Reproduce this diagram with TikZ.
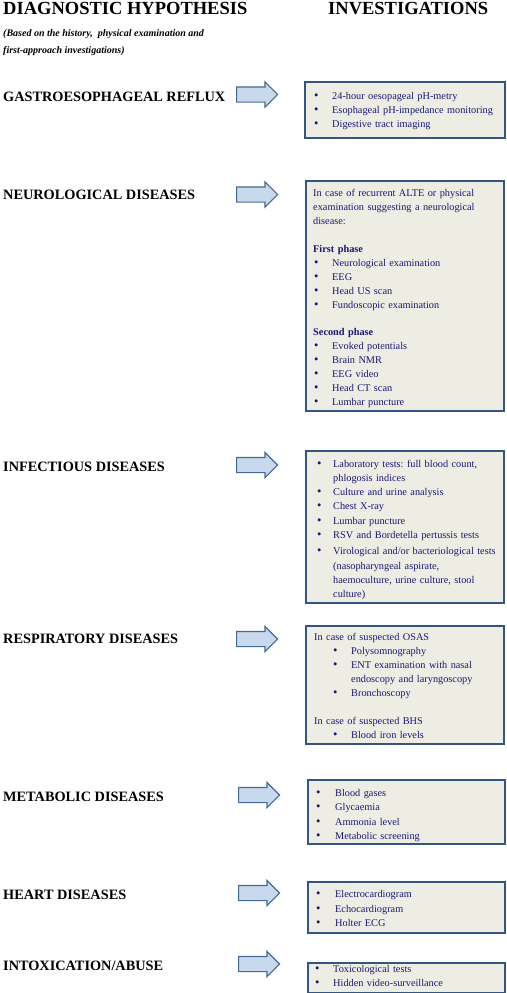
\documentclass[tikz,border=0pt]{standalone}
\usepackage{fontspec}
\setmainfont{Liberation Serif}
\usetikzlibrary{shapes.arrows}
\definecolor{navy}{RGB}{24,24,118}
\definecolor{boxfill}{RGB}{238,237,228}
\definecolor{boxline}{RGB}{50,85,130}
\definecolor{arrfill}{RGB}{200,217,238}
\definecolor{arrline}{RGB}{70,105,150}
\setlength\parskip{0pt}
\setlength\parindent{0pt}
\frenchspacing
\newlength\bulpos
\newlength\txtpos
\newcommand\bul{{\fontsize{12.5}{12}\selectfont\textbullet}}
\newcommand\li[1]{\par\strut\makebox[\txtpos][l]{\hspace*{\bulpos}\makebox[0pt]{\bul}}#1}
\newcommand\lc[1]{\par\strut\hspace*{\txtpos}#1}
\newcommand\lp[1]{\par\strut#1}
\newcommand\lblank{\par\strut}
\tikzset{
  ibox/.style={draw=boxline, line width=1.8pt, fill=boxfill, inner sep=0pt, anchor=north west},
  btext/.style={font=\fontsize{10.3}{#1}\selectfont\frenchspacing, text=navy, anchor=north west, inner sep=0pt, text width=196pt, align=left},
  disease/.style={font=\fontsize{14.3}{16}\selectfont\bfseries, anchor=base west, inner sep=0pt},
  header/.style={font=\fontsize{18.5}{20}\selectfont\bfseries, anchor=base west, inner sep=0pt},
  subhead/.style={font=\fontsize{10}{12}\selectfont\bfseries\itshape, anchor=base west, inner sep=0pt},
  blockarrow/.style={single arrow, draw=arrline, fill=arrfill, line width=1.2pt, minimum height=41pt, minimum width=24pt, single arrow head extend=5pt, inner xsep=0pt, inner ysep=7pt, anchor=tail}
}
\begin{document}
\begin{tikzpicture}[x=1pt,y=-1pt]
\useasboundingbox (0,0) rectangle (506,993);
\fill[white] (0,0) rectangle (506,993);
% headers
\node[header] (h1) at (3,14) {DIAGNOSTIC HYPOTHESIS};
\node[header] (h2) at (328,14) {INVESTIGATIONS};
\node[subhead] (s1) at (3,36.5) {(Based on the history,\ \ physical examination and};
\node[subhead] (s2) at (3,53.5) {first-approach investigations)};
% disease labels
\node[disease] (l1) at (3,101.7) {GASTROESOPHAGEAL REFLUX};
\node[disease] (l2) at (3,199.5) {NEUROLOGICAL DISEASES};
\node[disease] (l3) at (3,471) {INFECTIOUS DISEASES};
\node[disease] (l4) at (3,643) {RESPIRATORY DISEASES};
\node[disease] (l5) at (3,801) {METABOLIC DISEASES};
\node[disease] (l6) at (3,899) {HEART DISEASES};
\node[disease] (l7) at (3,970) {INTOXICATION/ABUSE};
% arrows
\node[blockarrow] (a1) at (236,94.5) {};
\node[blockarrow] (a2) at (236,194.5) {};
\node[blockarrow] (a3) at (236,465) {};
\node[blockarrow] (a4) at (236,639) {};
\node[blockarrow] (a5) at (238,795) {};
\node[blockarrow] (a6) at (238,893) {};
\node[blockarrow] (a7) at (238,964) {};
% boxes
\node[ibox, minimum width=200pt, minimum height=56pt] (b1) at (304,81) {};
\node[ibox, minimum width=198pt, minimum height=230pt] (b2) at (305,180) {};
\node[ibox, minimum width=198pt, minimum height=152pt] (b3) at (305,450) {};
\node[ibox, minimum width=198pt, minimum height=118pt] (b4) at (305,625) {};
\node[ibox, minimum width=197pt, minimum height=64pt] (b5) at (307,779) {};
\node[ibox, minimum width=197pt, minimum height=51pt] (b6) at (307,881) {};
\node[ibox, minimum width=197pt, minimum height=30pt] (b7) at (307,962) {};
% box texts
\node[btext=14] (t1) at (310,85.7) {\setlength\bulpos{6pt}\setlength\txtpos{22pt}%
\li{24-hour oesopageal pH-metry}
\li{Esophageal pH-impedance monitoring}
\li{Digestive tract imaging}};
\node[btext=13.9] (t2) at (313,182.8) {\setlength\bulpos{3pt}\setlength\txtpos{19pt}%
\lp{\makebox[182pt][s]{In case of recurrent ALTE or physical}}
\lp{\makebox[182pt][s]{examination suggesting a neurological}}
\lp{disease:}
\lblank
\lp{\textbf{First phase}}
\li{Neurological examination}
\li{EEG}
\li{Head US scan}
\li{Fundoscopic examination}
\lblank
\lp{\textbf{Second phase}}
\li{Evoked potentials}
\li{Brain NMR}
\li{EEG video}
\li{Head CT scan}
\li{Lumbar puncture}};
\node[btext=14.3] (t3) at (313,452.5) {\setlength\bulpos{6pt}\setlength\txtpos{20pt}%
\li{Laboratory tests: full blood count,}
\lc{phlogosis indices}
\li{Culture and urine analysis}
\li{Chest X-ray}
\li{Lumbar puncture}
\li{RSV and Bordetella pertussis tests}
\par\vspace{2pt}
\li{Virological and/or bacteriological tests}
\lc{(nasopharyngeal aspirate,}
\lc{haemoculture, urine culture, stool}
\lc{culture)}};
\node[btext=14] (t4) at (314,626.2) {\setlength\bulpos{21pt}\setlength\txtpos{37pt}%
\lp{In case of suspected OSAS}
\li{Polysomnography}
\li{ENT examination with nasal}
\lc{endoscopy and laryngoscopy}
\li{Bronchoscopy}
\lblank
\lp{In case of suspected BHS}
\li{Blood iron levels}};
\node[btext=14.6] (t5) at (312,781.3) {\setlength\bulpos{6pt}\setlength\txtpos{23pt}%
\li{Blood gases}
\li{Glycaemia}
\li{Ammonia level}
\li{Metabolic screening}};
\node[btext=14.4] (t6) at (312,883) {\setlength\bulpos{6pt}\setlength\txtpos{23pt}%
\li{Electrocardiogram}
\li{Echocardiogram}
\li{Holter ECG}};
\node[btext=14] (t7) at (312,958.7) {\setlength\bulpos{5pt}\setlength\txtpos{21pt}%
\li{Toxicological tests}
\li{Hidden video-surveillance}};
\end{tikzpicture}
\end{document}
